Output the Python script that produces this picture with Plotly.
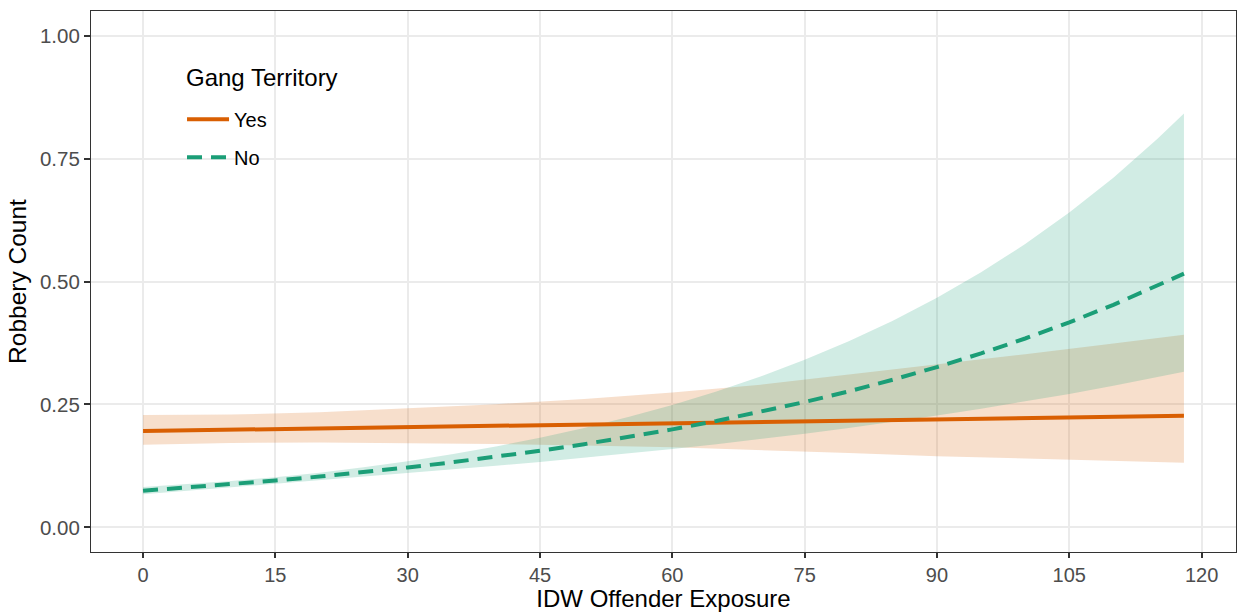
import plotly.graph_objects as go

# ---- data ----
x_yes = [0, 10, 20, 30, 40, 50, 60, 70, 80, 90, 100, 110, 118]
yes_fit = [0.1960, 0.1985, 0.2010, 0.2035, 0.2061, 0.2086, 0.2113, 0.2139, 0.2166, 0.2193, 0.2221, 0.2249, 0.2271]
yes_hi = [0.2284, 0.2294, 0.2342, 0.2423, 0.2505, 0.2612, 0.2741, 0.2902, 0.3105, 0.3323, 0.3523, 0.3737, 0.3918]
yes_lo = [0.1682, 0.1717, 0.1725, 0.1709, 0.1696, 0.1666, 0.1629, 0.1577, 0.1511, 0.1447, 0.1400, 0.1353, 0.1316]

x_no = [0, 5, 10, 15, 20, 25, 30, 35, 40, 45, 50, 55, 60, 65, 70, 75, 80, 85, 90, 95, 100, 105, 110, 115, 118]
no_fit = [0.0745, 0.0809, 0.0878, 0.0953, 0.1034, 0.1123, 0.1219, 0.1323, 0.1436, 0.1558, 0.1692, 0.1836,
          0.1993, 0.2163, 0.2348, 0.2549, 0.2767, 0.3003, 0.3260, 0.3538, 0.3841, 0.4169, 0.4525, 0.4912, 0.5159]
no_hi = [0.0823, 0.0880, 0.0945, 0.1022, 0.1113, 0.1222, 0.1346, 0.1487, 0.1647, 0.1824, 0.2023, 0.2244,
         0.2490, 0.2764, 0.3069, 0.3409, 0.3786, 0.4204, 0.4670, 0.5186, 0.5762, 0.6401, 0.7111, 0.7900, 0.8414]
no_lo = [0.0675, 0.0744, 0.0816, 0.0889, 0.0960, 0.1032, 0.1104, 0.1177, 0.1252, 0.1331, 0.1415, 0.1502,
         0.1595, 0.1693, 0.1796, 0.1906, 0.2023, 0.2145, 0.2276, 0.2414, 0.2560, 0.2715, 0.2879, 0.3054, 0.3163]

x_ticks = [0, 15, 30, 45, 60, 75, 90, 105, 120]
y_ticks = [0.00, 0.25, 0.50, 0.75, 1.00]
y_ticklabels = ["0.00", "0.25", "0.50", "0.75", "1.00"]

ORANGE = "#D95F02"
GREEN = "#1B9E77"
FONT = "Liberation Sans, Arial, sans-serif"

fig = go.Figure()

# confidence ribbons
fig.add_trace(go.Scatter(
    x=x_yes + x_yes[::-1], y=yes_hi + yes_lo[::-1],
    fill="toself", fillcolor="rgba(217,95,2,0.2)", line=dict(width=0),
    mode="lines", showlegend=False, hoverinfo="skip"))
fig.add_trace(go.Scatter(
    x=x_no + x_no[::-1], y=no_hi + no_lo[::-1],
    fill="toself", fillcolor="rgba(27,158,119,0.2)", line=dict(width=0),
    mode="lines", showlegend=False, hoverinfo="skip"))

# fitted lines
fig.add_trace(go.Scatter(
    x=x_yes, y=yes_fit, mode="lines", name="Yes", legendgroup="yes",
    line=dict(color=ORANGE, width=4)))
fig.add_trace(go.Scatter(
    x=x_no, y=no_fit, mode="lines", name="No", legendgroup="no",
    line=dict(color=GREEN, width=4, dash="15px,9px")))

# white legend background box (ggplot legend.background)
fig.add_shape(type="rect", xref="paper", yref="paper",
              x0=0.0707, x1=0.2288, y0=0.6747, y1=0.9242,
              fillcolor="white", line=dict(width=0), layer="between")

# legend title
fig.add_annotation(text="Gang Territory", xref="paper", yref="paper",
                   x=0.0812, y=0.878, xanchor="left", yanchor="middle",
                   showarrow=False, font=dict(size=24, color="black", family=FONT))

fig.update_layout(
    width=1237, height=612,
    margin=dict(l=91, r=1, t=11, b=60),
    paper_bgcolor="white", plot_bgcolor="white",
    font=dict(family=FONT, color="black"),
    showlegend=True,
    legend=dict(
        font=dict(size=20, color="black"),
        x=0.0795, y=0.836, xanchor="left", yanchor="top",
        bgcolor="rgba(255,255,255,0)", borderwidth=0,
        traceorder="grouped", tracegroupgap=9,
        itemwidth=42,
    ),
    xaxis=dict(
        range=[-5.9, 123.9], tickvals=x_ticks, ticktext=[str(v) for v in x_ticks],
        showgrid=True, gridcolor="#EBEBEB", gridwidth=1.5, zeroline=False,
        showline=True, linecolor="#333333", linewidth=1.2, mirror=True,
        ticks="outside", ticklen=5, tickcolor="#333333", tickwidth=1.5,
        tickfont=dict(size=20, color="#4D4D4D"),
        title=dict(text="IDW Offender Exposure", font=dict(size=24, color="black"), standoff=5),
    ),
    yaxis=dict(
        range=[-0.05, 1.05], tickvals=y_ticks, ticktext=y_ticklabels,
        showgrid=True, gridcolor="#EBEBEB", gridwidth=1.5, zeroline=False,
        showline=True, linecolor="#333333", linewidth=1.2, mirror=True,
        ticks="outside", ticklen=6, tickcolor="#333333", tickwidth=1.5,
        tickfont=dict(size=20.5, color="#4D4D4D"),
        title=dict(text="Robbery Count", font=dict(size=24.5, color="black"), standoff=6),
    ),
)

fig.write_html("out.html")
